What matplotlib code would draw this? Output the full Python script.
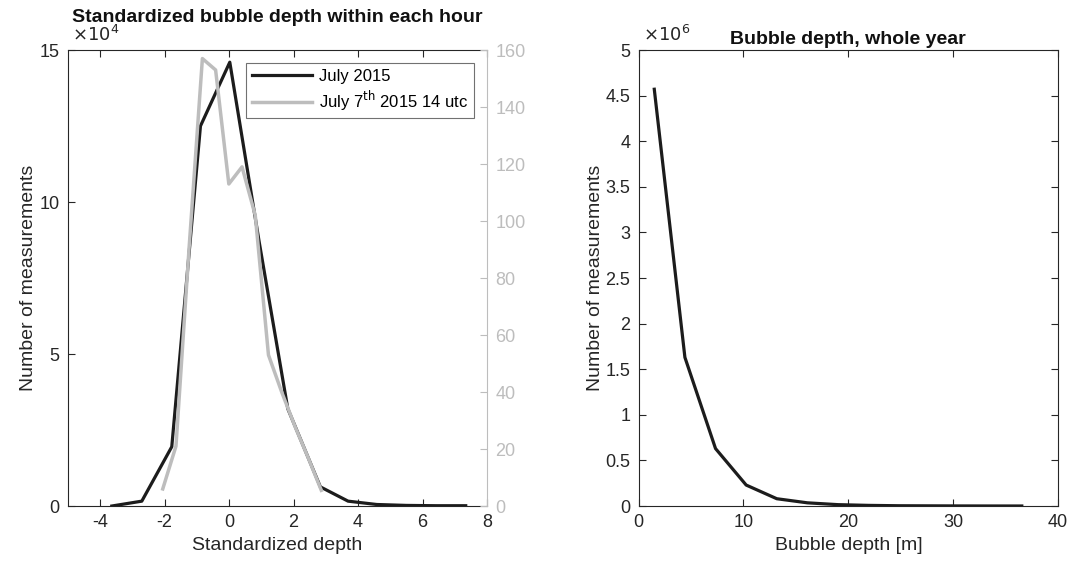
import numpy as np
import matplotlib
matplotlib.use('Agg')
import matplotlib.pyplot as plt

plt.rcParams['font.family'] = ['Liberation Sans', 'DejaVu Sans']

# standardized depth histogram, whole month (left axis)
z_month = [-3.64, -2.71, -1.78, -0.89, 0.02, 0.93, 1.82, 2.83, 3.69, 4.58, 5.50, 6.42, 7.34]
n_month = [0, 1600, 19500, 125000, 146000, 87000, 32000, 6300, 1600, 500, 200, 100, 100]

# standardized depth histogram, one hour (right axis)
z_hour = [-2.06, -1.65, -1.24, -0.83, -0.42, -0.01, 0.40, 0.81, 1.22, 1.63, 2.04, 2.45, 2.86]
n_hour = [6, 21, 91, 157, 153, 113, 119, 102, 53, 40, 28, 17, 5.5]

# bubble depth histogram, whole year
depth = [1.5, 4.42, 7.34, 10.26, 13.18, 16.1, 19.02, 21.94, 24.86, 27.78, 30.7, 33.62, 36.54]
n_year = [4.57e6, 1.63e6, 0.63e6, 0.23e6, 0.08e6, 0.035e6, 0.015e6, 0.007e6,
          0.003e6, 0.002e6, 0.001e6, 0.0005e6, 0.0003e6]

axcol = '#262626'
grey = '#bdbdbd'
black = '#1c1c1c'

fig = plt.figure(figsize=(10.81, 5.64), dpi=100)
ax1 = fig.add_axes([0.0629, 0.1028, 0.3876, 0.8085])
ax2 = ax1.twinx()
ax3 = fig.add_axes([0.5907, 0.1028, 0.3881, 0.8085])

# ---- left panel ----
l1, = ax1.plot(z_month, n_month, color=black, lw=2.3, label='July 2015')
l2, = ax2.plot(z_hour, n_hour, color=grey, lw=2.5, label='July 7$^{\\rm th}$ 2015 14 utc')
ax1.set_xlim(-5, 8)
ax1.set_ylim(0, 150000)
ax1.set_yticks([0, 50000, 100000, 150000])
ax1.set_yticklabels(['0', '5', '10', '15'])
ax1.set_xticks([-4, -2, 0, 2, 4, 6, 8])
ax1.set_xticklabels(['-4', '-2', '0', '2', '4', '6', '8'])
ax2.set_ylim(0, 160)
ax2.set_yticks(np.arange(0, 161, 20))
ax1.tick_params(axis='both', direction='in', length=5, width=0.8, labelsize=13,
                colors=axcol, top=True, right=False, pad=6)
ax2.tick_params(axis='y', direction='in', length=5, width=0.8, labelsize=13,
                colors=grey, pad=6)
for s in ax1.spines.values():
    s.set_color(axcol)
    s.set_linewidth(0.8)
for s in ['left', 'top', 'bottom']:
    ax2.spines[s].set_visible(False)
ax2.spines['right'].set_color(grey)
ax2.spines['right'].set_linewidth(0.8)
ax1.spines['right'].set_visible(False)
ax1.set_xlabel('Standardized depth', fontsize=14, color=axcol, labelpad=4)
ax1.set_ylabel('Number of measurements', fontsize=14, color=axcol, labelpad=2)
ax1.set_title('Standardized bubble depth within each hour', fontsize=14,
              fontweight='bold', color='#111111', pad=20)
ax1.text(0.01, 1.01, r'$\times10^{4}$', transform=ax1.transAxes, fontsize=13,
         color=axcol, ha='left', va='bottom')
leg = ax2.legend(handles=[l1, l2], loc='upper right', fontsize=12, frameon=True,
                 fancybox=False, handlelength=3.6, borderaxespad=0.8,
                 labelspacing=0.25, borderpad=0.35, handletextpad=0.4)
leg.get_frame().set_edgecolor('#4d4d4d')
leg.get_frame().set_linewidth(0.8)

# ---- right panel ----
ax3.plot(depth, n_year, color=black, lw=2.3)
ax3.set_xlim(0, 40)
ax3.set_ylim(0, 5e6)
ax3.set_xticks([0, 10, 20, 30, 40])
ax3.set_yticks(np.arange(0, 5.01e6, 0.5e6))
ax3.set_yticklabels(['0', '0.5', '1', '1.5', '2', '2.5', '3', '3.5', '4', '4.5', '5'])
ax3.tick_params(axis='both', direction='in', length=5, width=0.8, labelsize=13,
                colors=axcol, top=True, right=True, pad=6)
for s in ax3.spines.values():
    s.set_color(axcol)
    s.set_linewidth(0.8)
ax3.set_xlabel('Bubble depth [m]', fontsize=14, color=axcol, labelpad=4)
ax3.set_ylabel('Number of measurements', fontsize=14, color=axcol, labelpad=1)
ax3.set_title('Bubble depth, whole year', fontsize=14, fontweight='bold',
              color='#111111', pad=4)
ax3.text(0.01, 1.01, r'$\times10^{6}$', transform=ax3.transAxes, fontsize=13,
         color=axcol, ha='left', va='bottom')

fig.savefig('out.png', dpi=100)
